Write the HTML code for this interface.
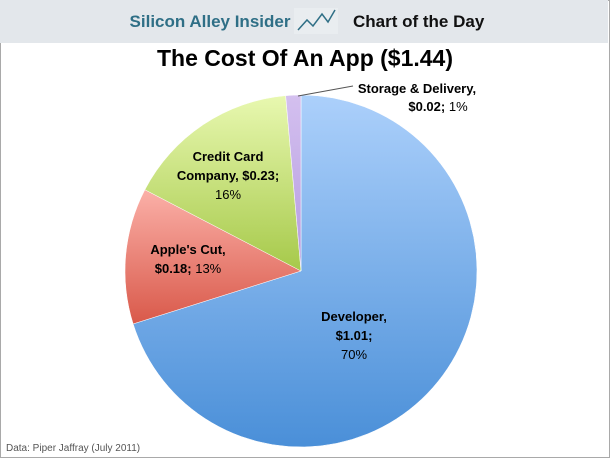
<!DOCTYPE html>
<html><head><meta charset="utf-8"><style>
body{margin:0;width:610px;height:458px;overflow:hidden;background:#fff;font-family:"Liberation Sans",sans-serif}
#frame{position:absolute;left:0;top:0;width:608px;height:456px;border:1px solid #a9a9a9}
#hdr{position:absolute;left:0;top:0;width:608px;height:43px;background:#e3e7eb}
</style></head><body>
<div id="frame"></div>
<div id="hdr"></div>
<svg width="610" height="458" style="position:absolute;left:0;top:0">
<defs>
<linearGradient id="gb" x1="0" y1="0" x2="0" y2="1"><stop offset="0" stop-color="#acd0fb"/><stop offset="1" stop-color="#4a8fd8"/></linearGradient>
<linearGradient id="gr" x1="0" y1="0" x2="0" y2="1"><stop offset="0" stop-color="#fbb0a8"/><stop offset="1" stop-color="#d9594a"/></linearGradient>
<linearGradient id="gg" x1="0" y1="0" x2="0" y2="1"><stop offset="0" stop-color="#e8f8b0"/><stop offset="1" stop-color="#a6c94a"/></linearGradient>
<linearGradient id="gp" x1="0" y1="0" x2="0" y2="1"><stop offset="0" stop-color="#d4c0ef"/><stop offset="1" stop-color="#b49be0"/></linearGradient>
</defs>
<text x="210" y="27" font-size="17" font-weight="bold" fill="#2f6f86" text-anchor="middle">Silicon Alley Insider</text>
<g>
<rect x="294" y="8" width="44" height="26" fill="#e9edf0"/>
<polyline points="298,30 307,20 313,26 322,14 328,22 335,10" fill="none" stroke="#2f6f86" stroke-width="1.5"/>
</g>
<text x="353" y="27" font-size="17" font-weight="bold" fill="#111">Chart of the Day</text>
<text x="305" y="66" font-size="23" font-weight="bold" fill="#000" text-anchor="middle">The Cost Of An App ($1.44)</text>
<g id="slices"></g>
<line x1="298" y1="96" x2="353" y2="86" stroke="#555" stroke-width="1"/>
<g font-size="13" fill="#000" font-weight="bold" text-anchor="middle">
<text x="417" y="93">Storage &amp; Delivery,</text>
<text x="438" y="111">$0.02; <tspan font-weight="normal">1%</tspan></text>
<text x="228" y="161">Credit Card</text>
<text x="228" y="180">Company, $0.23;</text>
<text x="228" y="199" font-weight="normal">16%</text>
<text x="188" y="254">Apple's Cut,</text>
<text x="188" y="273">$0.18; <tspan font-weight="normal">13%</tspan></text>
<text x="354" y="321">Developer,</text>
<text x="354" y="340">$1.01;</text>
<text x="354" y="359" font-weight="normal">70%</text>
</g>
<text x="6" y="451" font-size="10" fill="#555">Data: Piper Jaffray (July 2011)</text>
</svg>
<script>
const categories=["Developer","Apple's Cut","Credit Card Company","Storage & Delivery"];
const values=[1.01,0.18,0.23,0.02];
const fills=["url(#gb)","url(#gr)","url(#gg)","url(#gp)"];
const cx=301,cy=271,r=176;
const total=values.reduce((a,b)=>a+b,0);
const g=document.getElementById('slices');
let a0=0;
values.forEach((v,i)=>{
  const a1=a0+v/total*2*Math.PI;
  const x0=cx+r*Math.sin(a0),y0=cy-r*Math.cos(a0),x1=cx+r*Math.sin(a1),y1=cy-r*Math.cos(a1);
  const p=document.createElementNS('http://www.w3.org/2000/svg','path');
  p.setAttribute('d',`M${cx},${cy}L${x0},${y0}A${r},${r} 0 ${a1-a0>Math.PI?1:0} 1 ${x1},${y1}Z`);
  p.setAttribute('fill',fills[i]);
  p.setAttribute('stroke','#fff');
  p.setAttribute('stroke-width','0.5');
  
  
  g.appendChild(p);
  a0=a1;
});
</script>
</body></html>
